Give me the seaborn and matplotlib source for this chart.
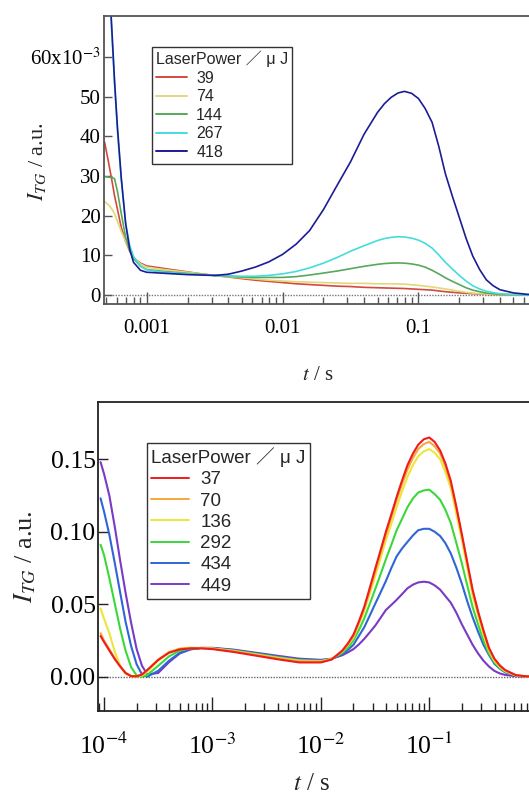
import numpy as np
import pandas as pd
import seaborn as sns
import matplotlib.pyplot as plt
from matplotlib.ticker import FixedLocator, LogLocator, NullFormatter
from matplotlib.lines import Line2D

# --- top panel data (I_TG in units of 1e-3) ---
T_TOP = [4.9e-4, 5.2e-4, 5.5e-4, 5.8e-4, 6.1e-4, 6.5e-4, 7.0e-4, 7.5e-4, 8.0e-4, 9.0e-4,
         1.0e-3, 1.26e-3, 1.58e-3, 2.0e-3, 2.51e-3, 3.16e-3, 3.98e-3, 5.0e-3, 6.3e-3, 7.9e-3,
         1.0e-2, 1.26e-2, 1.58e-2, 2.0e-2, 2.51e-2, 3.16e-2, 3.98e-2,
         5.0e-2, 5.62e-2, 6.3e-2, 7.08e-2, 7.9e-2, 8.91e-2, 0.1, 0.112, 0.126, 0.141,
         0.158, 0.178, 0.2, 0.224, 0.251, 0.282, 0.316, 0.355, 0.398,
         0.5, 0.63, 0.79, 1.0]
TOP_POWERS = ['39', '74', '144', '267', '418']
TOP_COLORS = ['#d4493e', '#e3d77a', '#58a85a', '#45dcdc', '#1c1c96']
TOP_39 = [38.5, 34, 29.5, 25, 21.5, 17, 13.5, 11, 9.3, 8.0,
          7.3, 6.8, 6.3, 5.8, 5.3, 4.9, 4.5, 4.1, 3.7, 3.4,
          3.1, 2.8, 2.6, 2.4, 2.2, 2.1, 1.9,
          1.8, 1.75, 1.7, 1.65, 1.6, 1.5, 1.4, 1.3, 1.2, 1.0,
          0.8, 0.65, 0.5, 0.4, 0.3, 0.22, 0.15, 0.1, 0.05,
          0, 0, 0, 0]
TOP_74 = [23.5, 22.8, 21.8, 20.5, 18.5, 16, 13.5, 11.2, 9.5, 7.8,
          7.0, 6.5, 6.1, 5.7, 5.3, 4.9, 4.6, 4.3, 4.0, 3.7,
          3.5, 3.3, 3.2, 3.1, 3.0, 2.9, 2.9,
          2.8, 2.8, 2.8, 2.75, 2.7, 2.55, 2.4, 2.2, 2.0, 1.75,
          1.5, 1.2, 0.9, 0.65, 0.45, 0.3, 0.2, 0.13, 0.08,
          0.02, 0, 0, 0]
TOP_144 = [29.8, 29.7, 29.6, 29.3, 26, 20.5, 14.5, 11.2, 9.2, 7.2,
           6.4, 6.0, 5.7, 5.4, 5.2, 4.9, 4.7, 4.5, 4.4, 4.4,
           4.4, 4.6, 5.0, 5.5, 6.0, 6.6, 7.2,
           7.7, 7.9, 8.0, 8.05, 8.0, 7.8, 7.5, 7.0, 6.2, 5.3,
           4.3, 3.4, 2.6, 1.8, 1.2, 0.8, 0.45, 0.28, 0.15,
           0.05, 0, 0, 0]
TOP_267 = [np.nan, 85, 68, 53, 41, 29, 18, 12.5, 9.7, 7.3,
           6.3, 5.8, 5.5, 5.3, 5.1, 4.9, 4.8, 4.7, 4.7, 4.9,
           5.3, 5.9, 6.8, 8.0, 9.4, 11.0, 12.4,
           13.7, 14.2, 14.5, 14.65, 14.6, 14.3, 13.8, 13.0, 11.8, 10.1,
           8.2, 6.5, 4.9, 3.5, 2.3, 1.5, 0.9, 0.55, 0.3,
           0.08, 0, 0, 0]
TOP_418 = [np.nan, 86, 69, 54, 42, 29.5, 18, 11.5, 8.2, 6.2,
           5.7, 5.5, 5.3, 5.1, 5.0, 4.9, 5.2, 6.0, 7.0, 8.3,
           10.2, 12.8, 16.2, 21.5, 27.5, 33.5, 40.5,
           46.0, 48.2, 49.8, 50.9, 51.3, 50.8, 49.5, 47.0, 43.5, 37.5,
           30.5, 24.8, 19.5, 14.3, 9.8, 6.4, 3.8, 2.3, 1.3,
           0.5, 0.15, 0, 0]

# --- bottom panel data ---
T_BOT = [9.3e-5, 1.0e-4, 1.12e-4, 1.26e-4, 1.41e-4, 1.58e-4, 1.78e-4, 2.0e-4, 2.24e-4, 2.51e-4,
         3.16e-4, 3.98e-4, 5.0e-4, 6.3e-4, 7.9e-4, 1.0e-3, 1.58e-3, 2.51e-3, 3.98e-3, 6.3e-3,
         1.0e-2, 1.26e-2,
         1.58e-2, 1.78e-2, 2.0e-2, 2.24e-2, 2.51e-2, 2.82e-2, 3.16e-2, 3.55e-2, 3.98e-2, 4.47e-2,
         5.0e-2, 5.62e-2, 6.3e-2, 7.08e-2, 7.9e-2, 8.91e-2, 0.1, 0.112, 0.126, 0.141,
         0.158, 0.178, 0.2, 0.224, 0.251, 0.282, 0.316, 0.355, 0.398, 0.447, 0.5,
         0.63, 0.79, 1.0]
BOT_POWERS = ['37', '70', '136', '292', '434', '449']
BOT_COLORS = ['#ee1c1c', '#f5a93a', '#ece63a', '#3ad83a', '#2f66d6', '#7a3ac6']
BOT_37 = [0.028, 0.024, 0.018, 0.012, 0.0070, 0.0025, 0.0003, 0.0002, 0.0015, 0.0046,
          0.0115, 0.0165, 0.0188, 0.0195, 0.0195, 0.0190, 0.0170, 0.0145, 0.0120, 0.0098,
          0.0098, 0.0118,
          0.018, 0.023, 0.029, 0.038, 0.048, 0.061, 0.074, 0.087, 0.100, 0.112,
          0.124, 0.1355, 0.146, 0.154, 0.160, 0.1638, 0.165, 0.162, 0.156, 0.147,
          0.135, 0.117, 0.098, 0.079, 0.060, 0.045, 0.032, 0.020, 0.0125, 0.0078, 0.0046,
          0.0010, 0.0002, 0.0]
BOT_70 = [0.030, 0.025, 0.019, 0.0125, 0.0072, 0.0027, 0.0004, 0.0002, 0.0014, 0.0045,
          0.0118, 0.0170, 0.0192, 0.0198, 0.0197, 0.0193, 0.0175, 0.0150, 0.0126, 0.0106,
          0.0103, 0.0121,
          0.018, 0.0225, 0.028, 0.037, 0.047, 0.059, 0.072, 0.085, 0.098, 0.110,
          0.122, 0.133, 0.143, 0.151, 0.157, 0.1605, 0.162, 0.159, 0.154, 0.145,
          0.133, 0.116, 0.097, 0.078, 0.059, 0.044, 0.031, 0.019, 0.012, 0.0075, 0.0043,
          0.0010, 0.0002, 0.0]
BOT_136 = [0.047, 0.040, 0.030, 0.017, 0.0075, 0.0020, 0.0002, 0.0, 0.0008, 0.0035,
           0.0110, 0.0168, 0.0194, 0.0200, 0.0198, 0.0194, 0.0177, 0.0153, 0.0130, 0.0110,
           0.0106, 0.0122,
           0.0175, 0.022, 0.027, 0.036, 0.045, 0.057, 0.069, 0.0815, 0.094, 0.1055,
           0.117, 0.128, 0.138, 0.146, 0.152, 0.1555, 0.157, 0.1545, 0.150, 0.141,
           0.130, 0.112, 0.094, 0.075, 0.056, 0.042, 0.029, 0.018, 0.011, 0.0068, 0.0038,
           0.0008, 0.0001, 0.0]
BOT_292 = [0.091, 0.084, 0.068, 0.050, 0.033, 0.018, 0.0065, 0.0008, 0.0, 0.0012,
           0.0075, 0.0140, 0.0180, 0.0195, 0.0198, 0.0195, 0.0180, 0.0157, 0.0134, 0.0114,
           0.0109, 0.0122,
           0.0165, 0.020, 0.025, 0.032, 0.040, 0.050, 0.060, 0.0705, 0.081, 0.091,
           0.101, 0.109, 0.117, 0.123, 0.127, 0.1285, 0.129, 0.126, 0.122, 0.115,
           0.106, 0.092, 0.078, 0.063, 0.048, 0.036, 0.025, 0.016, 0.010, 0.006, 0.0035,
           0.0008, 0.0001, 0.0]
BOT_434 = [0.123, 0.114, 0.098, 0.078, 0.058, 0.038, 0.021, 0.0085, 0.0015, 0.0,
           0.0040, 0.0110, 0.0165, 0.0190, 0.0198, 0.0197, 0.0183, 0.0160, 0.0138, 0.0118,
           0.0112, 0.0122,
           0.0155, 0.0185, 0.022, 0.028, 0.034, 0.042, 0.050, 0.058, 0.066, 0.075,
           0.083, 0.0885, 0.093, 0.0975, 0.101, 0.102, 0.102, 0.100, 0.097, 0.092,
           0.085, 0.075, 0.064, 0.052, 0.041, 0.031, 0.022, 0.015, 0.009, 0.0055, 0.003,
           0.0007, 0.0001, 0.0]
BOT_449 = [0.148, 0.140, 0.125, 0.103, 0.080, 0.058, 0.037, 0.019, 0.0075, 0.0015,
           0.0025, 0.0100, 0.0160, 0.0188, 0.0198, 0.0199, 0.0186, 0.0165, 0.0144, 0.0124,
           0.0116, 0.0124,
           0.0148, 0.0168, 0.019, 0.0222, 0.026, 0.0305, 0.035, 0.0405, 0.046, 0.0495,
           0.053, 0.057, 0.061, 0.0635, 0.065, 0.0655, 0.065, 0.063, 0.060, 0.0555,
           0.051, 0.044, 0.036, 0.029, 0.022, 0.016, 0.011, 0.007, 0.004, 0.0022, 0.0012,
           0.0003, 0.0, 0.0]

LEGEND_TITLE = 'LaserPower \uff0f \u03bc J'

sns.set_style('white')
plt.rcParams['font.family'] = ['Liberation Serif', 'DejaVu Serif']
plt.rcParams['mathtext.fontset'] = 'stix'
LEGEND_FONT = ['Liberation Sans', 'Noto Sans CJK JP', 'DejaVu Sans']

W, H = 529, 798
fig = plt.figure(figsize=(W / 100, H / 100), dpi=100)


def px_axes(left, top, right, bottom):
    return fig.add_axes([left / W, 1 - bottom / H, (right - left) / W, (bottom - top) / H])


def style_axes(ax, spine_color, fs, tick_len, xpad):
    for s in ax.spines.values():
        s.set_color(spine_color)
        s.set_linewidth(1.3)
    ax.spines['right'].set_visible(False)
    ax.tick_params(axis='y', direction='in', length=tick_len, width=1, colors=spine_color,
                   labelcolor='black', labelsize=fs, pad=2, left=True, right=False)
    ax.tick_params(axis='x', which='major', direction='in', length=tick_len + 3, width=1,
                   colors=spine_color, labelcolor='black', labelsize=fs, pad=xpad,
                   bottom=True, top=False)
    ax.tick_params(axis='x', which='minor', direction='in', length=tick_len - 1, width=1,
                   colors=spine_color, bottom=True, top=False)
    ax.grid(False)


def draw_legend(ax, colors, labels, anchor, fs, spacing, hlen):
    handles = [Line2D([0], [0], color=c, lw=1.4) for c in colors]
    leg = ax.legend(handles, labels, title=LEGEND_TITLE, loc='upper left',
                    bbox_to_anchor=anchor, bbox_transform=fig.transFigure, borderaxespad=0,
                    frameon=True, fancybox=False, framealpha=1, edgecolor='#333333',
                    handlelength=hlen, handletextpad=0.6, labelspacing=spacing,
                    borderpad=0.25, alignment='left',
                    prop={'family': LEGEND_FONT, 'size': fs},
                    title_fontproperties={'family': LEGEND_FONT, 'size': fs})
    leg.get_frame().set_linewidth(1.0)
    return leg


# ---------------- top panel ----------------
ax1 = px_axes(103.5, 16, 554.3, 304)
top_series = [TOP_39, TOP_74, TOP_144, TOP_267, TOP_418]
for vals, c in zip(top_series, TOP_COLORS):
    sns.lineplot(x=T_TOP, y=vals, color=c, lw=1.2, ax=ax1, sort=False, estimator=None)
ax1.set_xscale('log')
ax1.set_xlim(4.81e-4, 1.0)
ax1.set_ylim(-2.3, 70.3)
ax1.axhline(0, color='#777777', ls=(0, (1, 1)), lw=1.0, zorder=0)
ax1.yaxis.set_major_locator(FixedLocator([0, 10, 20, 30, 40, 50, 60]))
ax1.set_yticklabels(['0', '10', '20', '30', '40', '50', '60x10$^{-3}$'])
ax1.xaxis.set_major_locator(FixedLocator([0.001, 0.01, 0.1, 1.0]))
ax1.set_xticklabels(['0.001', '0.01', '0.1', ''])
ax1.xaxis.set_minor_locator(LogLocator(base=10, subs=np.arange(2, 10)))
ax1.xaxis.set_minor_formatter(NullFormatter())
style_axes(ax1, '#555555', 15, 6, 11)
ax1.set_xlabel('')
ax1.set_ylabel('')
fig.text(318 / W, 1 - 375 / H, '$t$ / s', ha='center', va='center', fontsize=15)
fig.text(37 / W, 1 - 162 / H, '$I_{TG}$ / a.u.', ha='center', va='center', rotation=90, fontsize=16)
draw_legend(ax1, TOP_COLORS, TOP_POWERS, (152.3 / W, 1 - 46.7 / H), 11.5, 0.22, 1.9)

# ---------------- bottom panel ----------------
ax2 = px_axes(98.3, 401.7, 537.7, 710.7)
bot_series = [BOT_37, BOT_70, BOT_136, BOT_292, BOT_434, BOT_449]
for vals, c in reversed(list(zip(bot_series, BOT_COLORS))):
    sns.lineplot(x=T_BOT, y=vals, color=c, lw=1.5, ax=ax2, sort=False, estimator=None)
ax2.set_xscale('log')
ax2.set_xlim(8.86e-5, 1.0)
ax2.set_ylim(-0.0235, 0.1897)
ax2.axhline(0, color='#666666', ls=(0, (1, 1)), lw=1.0, zorder=0)
ax2.yaxis.set_major_locator(FixedLocator([0.0, 0.05, 0.10, 0.15]))
ax2.set_yticklabels(['0.00', '0.05', '0.10', '0.15'])
ax2.xaxis.set_major_locator(FixedLocator([1e-4, 1e-3, 1e-2, 1e-1, 1.0]))
ax2.set_xticklabels(['10$^{-4}$', '10$^{-3}$', '10$^{-2}$', '10$^{-1}$', ''])
ax2.xaxis.set_minor_locator(LogLocator(base=10, subs=np.arange(2, 10)))
ax2.xaxis.set_minor_formatter(NullFormatter())
style_axes(ax2, '#222222', 18.5, 7, 16)
ax2.set_xlabel('')
ax2.set_ylabel('')
fig.text(312 / W, 1 - 784 / H, '$t$ / s', ha='center', va='center', fontsize=18)
fig.text(25 / W, 1 - 557 / H, '$I_{TG}$ / a.u.', ha='center', va='center', rotation=90, fontsize=19)
draw_legend(ax2, BOT_COLORS, BOT_POWERS, (146.7 / W, 1 - 442.7 / H), 13.5, 0.22, 2.0)

fig.savefig('out.png', dpi=100)
